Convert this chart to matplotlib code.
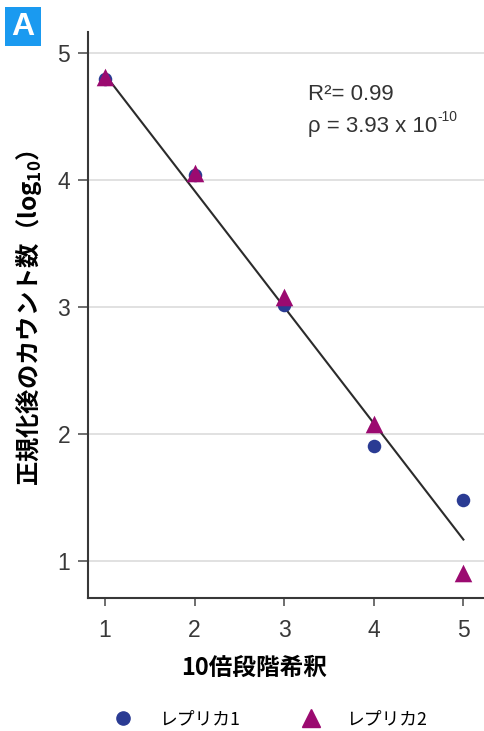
import matplotlib
matplotlib.use("Agg")
import matplotlib.pyplot as plt
from matplotlib.patches import FancyBboxPatch
from matplotlib.lines import Line2D

# Data
dilution = [1, 2, 3, 4, 5]
replica1 = [4.80, 4.04, 3.02, 1.91, 1.48]
replica2 = [4.81, 4.06, 3.08, 2.08, 0.91]
fit_x = [1, 5]
fit_y = [4.83, 1.17]
xticks = [1, 2, 3, 4, 5]
yticks = [1, 2, 3, 4, 5]
series_names = ["レプリカ1", "レプリカ2"]
xlabel = "10倍段階希釈"
ylabel = "正規化後のカウント数（log$_{10}$）"

JP = ["Noto Sans CJK JP", "DejaVu Sans"]
LAT = ["Liberation Sans", "DejaVu Sans"]
plt.rcParams["mathtext.fontset"] = "custom"
plt.rcParams["mathtext.rm"] = "Liberation Sans"
plt.rcParams["mathtext.bf"] = "Liberation Sans:bold"
plt.rcParams["mathtext.default"] = "regular"

c1 = "#2a3b93"
c2 = "#9b0a70"

fig = plt.figure(figsize=(4.84, 7.31), dpi=100)
ax = fig.add_axes([0.182, 0.182, 0.818, 0.774])

ax.set_xlim(0.81, 5.23)
ax.set_ylim(0.71, 5.165)

for yv in yticks:
    ax.axhline(yv, color="#dcdcdc", lw=1.2, zorder=0)

ax.plot(fit_x, fit_y, color="#2b2b2b", lw=1.5, zorder=2)
ax.scatter(dilution, replica1, marker="o", s=95, color=c1, zorder=3, linewidths=0)
ax.scatter(dilution, replica2, marker="^", s=160, color=c2, zorder=3, linewidths=0)

ax.set_xticks(xticks)
ax.set_yticks(yticks)
ax.set_xticklabels([str(v) for v in xticks], fontfamily=LAT, fontsize=16.5, color="#383838")
ax.set_yticklabels([str(v) for v in yticks], fontfamily=LAT, fontsize=16.5, color="#383838")
ax.tick_params(axis="x", length=6, width=1.2, color="#555555", pad=9)
ax.tick_params(axis="y", length=7, width=1.2, color="#555555", pad=6)

for s in ["top", "right"]:
    ax.spines[s].set_visible(False)
for s in ["left", "bottom"]:
    ax.spines[s].set_color("#383838")
    ax.spines[s].set_linewidth(1.5)

ax.set_xlabel(xlabel, fontfamily=JP, fontsize=17, fontweight="bold")
ax.xaxis.set_label_coords((254 - 88) / 396, (598 - 668) / 566)
ax.xaxis.label.set_va("center")
ax.set_ylabel(ylabel, fontfamily=JP, fontsize=17.5, fontweight="bold")
ax.yaxis.set_label_coords((28 - 88) / 396, (598 - 318) / 566)
ax.yaxis.label.set_va("center")

t1 = ax.text(0.555, 0.889, "R²= 0.99", transform=ax.transAxes, fontfamily=LAT,
             fontsize=16, color="#333333", va="center")
t2 = ax.text(0.555, 0.834, "ρ = 3.93 x 10", transform=ax.transAxes, fontfamily=LAT,
             fontsize=16, color="#333333", va="center")
ax.annotate("-10", xy=(1.0, 0.62), xycoords=t2, fontfamily=LAT, fontsize=10,
            color="#333333", va="bottom", ha="left")

# Panel label
fig.patches.append(FancyBboxPatch((5 / 484, 1 - 46 / 731), 36 / 484, 39 / 731,
                                  boxstyle="square,pad=0", transform=fig.transFigure,
                                  facecolor="#1a9af0", edgecolor="none"))
fig.text(23 / 484, 1 - 27 / 731, "A", fontfamily=LAT, fontweight="bold", fontsize=23,
         color="white", ha="center", va="center")

handles = [Line2D([], [], marker="o", ls="", color=c1, markersize=9.5),
           Line2D([], [], marker="^", ls="", color=c2, markersize=12.5)]
fig.legend(handles, series_names, loc="center", bbox_to_anchor=(0.55, 1 - 719 / 731),
           ncol=2, frameon=False, prop={"family": JP, "size": 12.8}, columnspacing=3.0,
           handletextpad=1.0)

fig.savefig("out.png", dpi=100)
